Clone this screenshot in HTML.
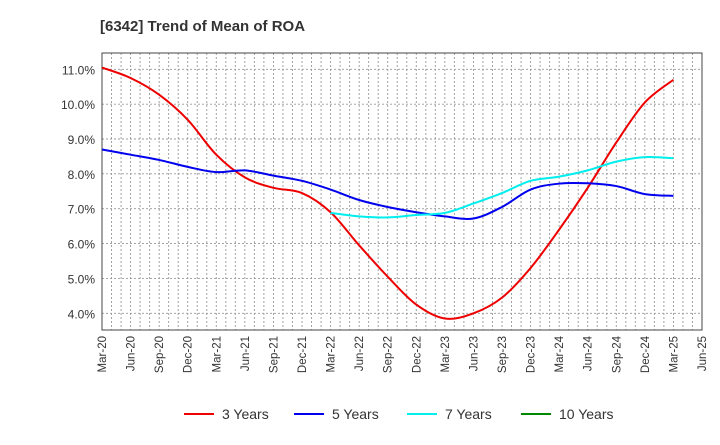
<!DOCTYPE html>
<html><head><meta charset="utf-8"><style>
body{margin:0;background:#fff;font-family:"Liberation Sans",sans-serif}
</style></head><body>
<svg id="c" width="720" height="440" xmlns="http://www.w3.org/2000/svg">
<text x="100" y="31" font-size="15" font-weight="bold" fill="#333">[6342]  Trend of Mean of ROA</text>
<g id="grid"></g><g id="axes"></g><g id="series"></g><g id="legend"></g>
</svg>
<script>
const xLabels=["Mar-20","Jun-20","Sep-20","Dec-20","Mar-21","Jun-21","Sep-21","Dec-21","Mar-22","Jun-22","Sep-22","Dec-22","Mar-23","Jun-23","Sep-23","Dec-23","Mar-24","Jun-24","Sep-24","Dec-24","Mar-25","Jun-25"];
const yTicks=[4,5,6,7,8,9,10,11];
const s3=[11.05,10.75,10.27,9.55,8.55,7.9,7.6,7.45,6.9,5.95,5.05,4.25,3.85,4.0,4.45,5.3,6.4,7.6,8.9,10.05,10.7];
const s5=[8.7,8.55,8.4,8.2,8.05,8.1,7.95,7.8,7.55,7.25,7.05,6.9,6.78,6.72,7.05,7.55,7.72,7.73,7.65,7.42,7.37];
const s7=[null,null,null,null,null,null,null,null,6.88,6.78,6.75,6.82,6.88,7.15,7.45,7.8,7.92,8.1,8.35,8.48,8.45];
const s10=[];
const NS="http://www.w3.org/2000/svg";
const L=102,R=702,T=53,B=330;
const x=i=>L+i*(R-L)/(xLabels.length-1);
const y=v=>313.3-(v-4)*34.86;
function mk(tag,attrs,parent){const e=document.createElementNS(NS,tag);for(const k in attrs)e.setAttribute(k,attrs[k]);document.getElementById(parent).appendChild(e);return e;}
for(let m=0;m<=63;m++){const gx=L+m*(R-L)/63;
const g=mk("line",{x1:gx,x2:gx,y1:T,y2:B,stroke:"#999","stroke-dasharray":"2,2","stroke-width":0.9},"grid");

}
yTicks.forEach(v=>{const g=mk("line",{x1:L,x2:R,y1:y(v),y2:y(v),stroke:"#999","stroke-dasharray":"2,2","stroke-width":0.9},"grid");


const t=mk("text",{x:L-7,y:y(v)+5,"text-anchor":"end","font-size":12,fill:"#333"},"axes");


t.textContent=v.toFixed(1)+"%";});
const fr=mk("rect",{x:L,y:T,width:R-L,height:B-T,fill:"none",stroke:"#444","stroke-width":1},"axes");


xLabels.forEach((lb,i)=>{const t=mk("text",{x:0,y:0,"text-anchor":"end","font-size":11.5,fill:"#333",transform:`translate(${x(i)+4},${B+6}) rotate(-90)`},"axes");


t.textContent=lb;});
function path(arr){const pts=[];arr.forEach((v,i)=>{if(v!=null)pts.push([x(i),y(v)]);});if(pts.length<2)return "";
let d=`M${pts[0][0]},${pts[0][1]}`;
for(let i=0;i<pts.length-1;i++){const p0=pts[Math.max(0,i-1)],p1=pts[i],p2=pts[i+1],p3=pts[Math.min(pts.length-1,i+2)];
const c1=[p1[0]+(p2[0]-p0[0])/6,p1[1]+(p2[1]-p0[1])/6],c2=[p2[0]-(p3[0]-p1[0])/6,p2[1]-(p3[1]-p1[1])/6];
d+=` C${c1[0]},${c1[1]} ${c2[0]},${c2[1]} ${p2[0]},${p2[1]}`;}return d;}
const series=[["3 Years",s3,"#ee0000","series-3-years",184],["5 Years",s5,"#0000ee","series-5-years",294],["7 Years",s7,"#00eeee","series-7-years",407],["10 Years",s10,"#008800","series-10-years",521]];
series.forEach(([n,arr,col,nm,lx])=>{const d=path(arr);if(d){const p=mk("path",{d:d,fill:"none",stroke:col,"stroke-width":2},"series");

}
const ln=mk("line",{x1:lx,x2:lx+30,y1:414,y2:414,stroke:col,"stroke-width":2},"legend");


const t=mk("text",{x:lx+38,y:419,"font-size":14,fill:"#333"},"legend");


t.textContent=n;});
</script>
</body></html>
